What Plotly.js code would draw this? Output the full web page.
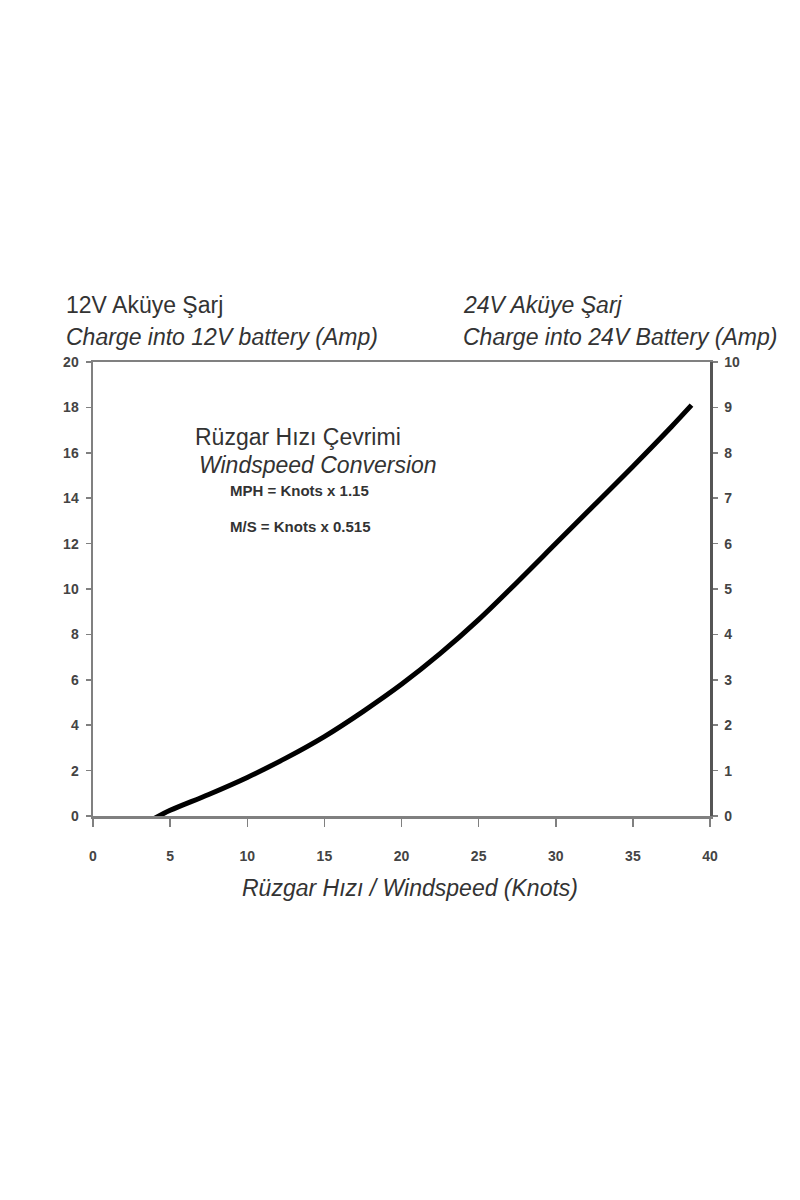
<!DOCTYPE html>
<html>
<head>
<meta charset="utf-8">
<script src="https://cdn.plot.ly/plotly-3.0.1.min.js"></script>
<style>
  html, body { margin: 0; padding: 0; background: #fff; }
  #chart { width: 800px; height: 1200px; }
</style>
</head>
<body>
<div id="chart"></div>
<script>
// Charge curve
const windspeed = [4, 5, 7.5, 10, 12.5, 15, 17.5, 20, 22.5, 25, 27.5, 30, 32.5, 35, 37.5, 38.8];
const amps12 = [-0.1, 0.25, 0.95, 1.7, 2.55, 3.5, 4.6, 5.8, 7.15, 8.65, 10.3, 12.0, 13.7, 15.4, 17.15, 18.1];

const xTicks = [0, 5, 10, 15, 20, 25, 30, 35, 40];
const yTicks12 = [0, 2, 4, 6, 8, 10, 12, 14, 16, 18, 20];
const yTicks24 = [0, 1, 2, 3, 4, 5, 6, 7, 8, 9, 10];

const FONT = 'Liberation Sans, Arial, sans-serif';
const TEXT = '#333';
const AXIS = '#808080';
const tickFont = { family: FONT, size: 14, color: '#444', weight: 'bold' };

const trace = {
    x: windspeed,
    y: amps12,
    type: 'scatter',
    mode: 'lines',
    line: { color: '#000', width: 5, shape: 'spline', smoothing: 1 },
    hoverinfo: 'x+y',
};

// ghost trace so the right axis is drawn
const trace24 = {
    x: [0],
    y: [0],
    yaxis: 'y2',
    type: 'scatter',
    mode: 'markers',
    marker: { opacity: 0 },
    hoverinfo: 'skip',
};

function note(text, x, y, size, opts = {}) {
    return {
        xref: 'paper', yref: 'paper',
        x, y, text, showarrow: false,
        xanchor: opts.xanchor || 'left', yanchor: 'middle',
        font: { family: FONT, size, color: TEXT, style: opts.italic ? 'italic' : 'normal', weight: opts.bold ? 'bold' : 'normal' },
    };
}

const layout = {
    width: 800,
    height: 1200,
    margin: { l: 93, r: 90, t: 362, b: 384 },
    paper_bgcolor: '#fff',
    plot_bgcolor: '#fff',
    showlegend: false,
    xaxis: {
        range: [0, 40],
        tickvals: xTicks,
        ticks: 'outside', ticklen: 8, tickcolor: AXIS, tickwidth: 1.5,
        ticklabelstandoff: 18,
        showline: true, linecolor: AXIS, linewidth: 2.5, mirror: true,
        showgrid: false, zeroline: false,
        tickfont: tickFont,
        fixedrange: true,
    },
    yaxis: {
        range: [0, 20],
        tickvals: yTicks12,
        ticks: 'outside', ticklen: 5, tickcolor: AXIS, tickwidth: 1.5,
        ticklabelstandoff: 4,
        showline: true, linecolor: AXIS, linewidth: 2.5,
        showgrid: false, zeroline: false,
        tickfont: tickFont,
        fixedrange: true,
    },
    yaxis2: {
        range: [0, 10],
        tickvals: yTicks24,
        overlaying: 'y', side: 'right',
        ticks: 'outside', ticklen: 5, tickcolor: AXIS, tickwidth: 1.5,
        ticklabelstandoff: 4,
        showline: true, linecolor: '#555', linewidth: 2.5,
        showgrid: false, zeroline: false,
        tickfont: tickFont,
        fixedrange: true,
    },
    annotations: [
        note('12V Aküye Şarj', -0.047, 1.1256, 23),
        note('Charge into 12V battery (Amp)', -0.047, 1.055, 23, { italic: true }),
        note('24V Aküye Şarj', 0.5964, 1.1256, 23, { italic: true }),
        note('Charge into 24V Battery (Amp)', 0.5964, 1.055, 23, { italic: true }),
        note('Rüzgar Hızı Çevrimi', 0.162, 0.835, 23),
        note('Windspeed Conversion', 0.1686, 0.773, 23, { italic: true }),
        note('MPH = Knots x 1.15', 0.2188, 0.718, 15, { bold: true }),
        note('M/S = Knots x 0.515', 0.2188, 0.6366, 15, { bold: true }),
        note('Rüzgar Hızı / Windspeed (Knots)', 0.5138, -0.1586, 23, { italic: true, xanchor: 'center' }),
    ],
};

Plotly.newPlot('chart', [trace, trace24], layout, { staticPlot: true });
</script>
</body>
</html>
